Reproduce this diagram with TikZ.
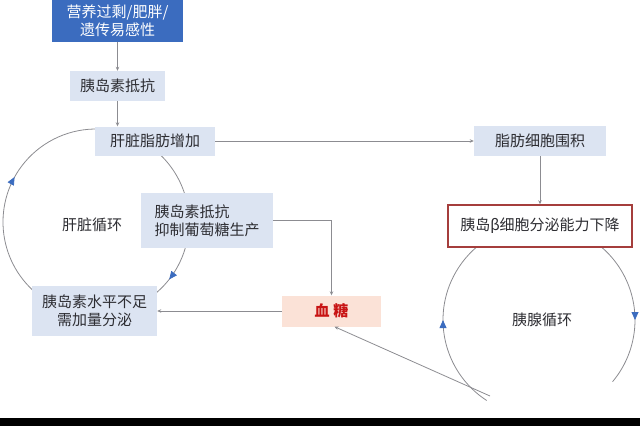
\documentclass[tikz,border=0pt]{standalone}
\usepackage{fontspec}
\setmainfont{Noto Sans CJK SC}
\usetikzlibrary{arrows.meta, positioning, calc, backgrounds, decorations.markings}
\definecolor{HeadBlue}{RGB}{59,108,191}
\definecolor{BoxBlue}{RGB}{220,228,242}
\definecolor{GluFill}{RGB}{251,226,215}
\definecolor{BetaRed}{RGB}{165,62,60}
\definecolor{GluRed}{RGB}{200,20,20}
\definecolor{LineGray}{RGB}{140,140,145}
\definecolor{TxtGray}{RGB}{45,45,50}

\begin{document}
\begin{tikzpicture}[x=1pt, y=-1pt, font=\fontsize{15}{18}\selectfont, text=TxtGray,
	bx/.style={rectangle, fill=BoxBlue, inner sep=0pt, align=center},
	hd/.style={rectangle, fill=HeadBlue, text=white, inner sep=0pt, align=center},
	rbx/.style={rectangle, draw=BetaRed, line width=1.4pt, fill=white, inner sep=0pt},
	gbx/.style={rectangle, fill=GluFill, text=GluRed, inner sep=0pt, font=\fontsize{15}{18}\selectfont\bfseries},
	fl/.style={-{Stealth[length=4pt, width=3.5pt]}, LineGray, line width=0.8pt},
	cyc/.style={LineGray, line width=0.8pt},
	mk/.style={postaction={decorate, decoration={markings,
		mark=at position #1 with {\arrow[HeadBlue]{Triangle[length=8pt, width=7pt]}}}}}]

	\useasboundingbox (0,0) rectangle (640,426);

	\node[hd, minimum width=131, minimum height=42] (cause) at (117.5,21) {营养过剩/肥胖/\\遗传易感性};
	\node[bx, minimum width=95, minimum height=30] (ir) at (117.5,86) {胰岛素抵抗};
	\node[bx, minimum width=120, minimum height=29] (liver) at (155,141) {肝脏脂肪增加};
	\node[bx, minimum width=132, minimum height=30] (fat) at (540,141) {脂肪细胞围积};
	\node[rbx, minimum width=184, minimum height=42] (beta) at (540,226) {胰岛β细胞分泌能力下降};
	\node[bx, minimum width=132, minimum height=55, align=left] (irglu) at (207,220.5) {胰岛素抵抗\\抑制葡萄糖生产};
	\node[bx, minimum width=125, minimum height=50] (ins) at (94.5,311) {胰岛素水平不足\\需加量分泌};
	\node[gbx, minimum width=99, minimum height=31] (glu) at (331.5,311) {血\hspace{4pt}糖};

	\node (lcyc) at (92,225) {肝脏循环};
	\node (pcyc) at (542,320) {胰腺循环};

	% two cycles behind the boxes
	\coordinate (lc) at (96,222);
	\coordinate (pc) at (539,320);
	\begin{scope}[on background layer]
		\draw[cyc, mk=0.556] (lc) ++(130:93) arc[start angle=130, end angle=272, radius=93];
		\draw[cyc, mk=0.87] (lc) ++(-55:93) arc[start angle=-55, end angle=52, radius=93];
		\draw[cyc, mk=0.487] (pc) ++(123:96) arc[start angle=123, end angle=240, radius=96];
		\draw[cyc, mk=0.6] (pc) ++(-60:96) arc[start angle=-60, end angle=40, radius=96];
	\end{scope}

	\draw[fl] (cause) -- (ir);
	\draw[fl] (ir) -- (ir |- liver.north);
	\draw[fl] (liver) -- (fat);
	\draw[fl] (fat) -- (beta);
	\draw[fl] (irglu.east) -| (glu.north);
	\draw[fl] (glu) -- (ins);
	\coordinate (wm) at (490,396);
	\draw[fl] (wm) -- ($(glu.south)+(3,0)$);

	\fill[black] (0,418) rectangle (640,426);
\end{tikzpicture}
\end{document}
